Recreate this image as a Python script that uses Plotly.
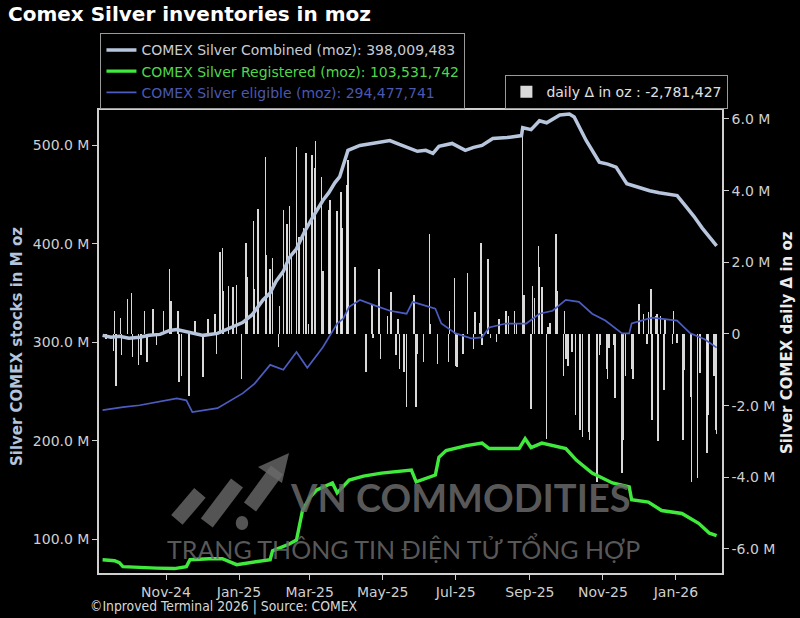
import plotly.graph_objects as go

# ---------------- data (values in millions of oz) ----------------
comb_dates = ["2024-09-09","2024-09-16","2024-09-23","2024-10-01","2024-10-10","2024-10-18","2024-10-27",
              "2024-11-04","2024-11-10","2024-11-21","2024-12-02","2024-12-14","2024-12-24","2025-01-04",
              "2025-01-12","2025-01-21","2025-01-27","2025-02-01","2025-02-07","2025-02-12","2025-02-18",
              "2025-02-25","2025-03-04","2025-03-12","2025-03-17","2025-03-22","2025-03-26","2025-04-02",
              "2025-04-12","2025-04-24","2025-05-07","2025-05-15","2025-05-23","2025-05-30","2025-06-06",
              "2025-06-12","2025-06-17","2025-06-28","2025-07-09","2025-07-16","2025-07-23","2025-08-01",
              "2025-08-13","2025-08-25","2025-08-26","2025-09-02","2025-09-09","2025-09-15","2025-09-26",
              "2025-10-04","2025-10-08","2025-10-18","2025-10-29","2025-11-05","2025-11-12","2025-11-21",
              "2025-12-02","2025-12-10","2025-12-18","2026-01-02","2026-01-10","2026-01-16","2026-01-23",
              "2026-01-30","2026-02-04"]
comb_vals = [307,305,306,304,305,307,308,312,313,310,307,309,314,320,328,343,350,362,372,386,395,
             413,428,444,452,462,468,495,500,502,505,501,497,494,495,492,499,502,495,498,500,507,
             508,510,518,516,525,523,531,532,529,505,483,481,478,461,457,454,452,449,437,428,416,
             406,398.0]

reg_dates = ["2024-09-09","2024-09-19","2024-09-23","2024-09-26","2024-10-24","2024-11-08","2024-11-18",
             "2024-11-21","2024-12-07","2024-12-18","2024-12-30","2025-01-14","2025-01-27","2025-01-29",
             "2025-02-12","2025-02-18","2025-02-23","2025-03-01","2025-03-07","2025-03-20","2025-03-24",
             "2025-04-03","2025-04-15","2025-04-30","2025-05-23","2025-05-25","2025-05-29","2025-06-14",
             "2025-06-17","2025-06-23","2025-07-10","2025-07-23","2025-07-29","2025-08-23","2025-08-28",
             "2025-09-02","2025-09-11","2025-10-01","2025-10-10","2025-10-23","2025-11-09","2025-11-23",
             "2025-11-25","2025-12-09","2025-12-20","2026-01-06","2026-01-20","2026-01-29","2026-02-04"]
reg_vals = [79,78,76,72,70.5,70,72,79,80,80,74,77,79,88,95,99,129,142,150,157,147,160,164,167,169,170,
            158,165,183,190,195,197.5,192,192,202,193,197.5,192,180,167,157,153,140,137.6,129,126,116,
            106,103.5]

elig_dates = ["2024-09-09","2024-09-19","2024-09-26","2024-10-10","2024-10-24","2024-11-10","2024-11-18",
              "2024-11-23","2024-12-14","2025-01-04","2025-01-14","2025-01-27","2025-02-07","2025-02-18",
              "2025-02-27","2025-03-12","2025-03-24","2025-03-29","2025-04-03","2025-04-12","2025-04-23",
              "2025-05-07","2025-05-21","2025-05-26","2025-06-14","2025-06-19","2025-07-01","2025-07-14",
              "2025-07-23","2025-07-29","2025-08-12","2025-08-29","2025-09-09","2025-09-20","2025-10-01",
              "2025-10-12","2025-10-23","2025-11-03","2025-11-17","2025-11-23","2025-11-25","2025-12-12",
              "2026-01-02","2026-01-13","2026-01-25","2026-02-04"]
elig_vals = [231,233,234,236,239,243,241,229,233,248,258,277,272,290,274,295,319,324,336,343,338,332,
             329,341,334,319,309,304,305,315,319,319,329,332,343,341,329,322,309,309,319,325,322,309,
             303,294.5]

bar_dates = ["2024-09-12","2024-09-18","2024-09-19","2024-09-20","2024-09-24","2024-09-25","2024-09-30",
             "2024-10-03","2024-10-04","2024-10-09","2024-10-11","2024-10-14","2024-10-16","2024-10-21",
             "2024-10-24","2024-10-30","2024-11-04","2024-11-05","2024-11-11","2024-11-12","2024-11-14",
             "2024-11-20","2024-11-25","2024-12-02","2024-12-06","2024-12-12","2024-12-13","2024-12-16",
             "2024-12-18","2024-12-19","2024-12-23","2024-12-27","2024-12-30","2025-01-03","2025-01-07",
             "2025-01-08","2025-01-13","2025-01-14","2025-01-17","2025-01-23","2025-01-24","2025-01-27",
             "2025-01-29","2025-02-03","2025-02-04","2025-02-07","2025-02-10","2025-02-12","2025-02-14",
             "2025-02-18","2025-02-20","2025-02-24","2025-02-26","2025-02-28","2025-03-03","2025-03-05",
             "2025-03-06","2025-03-11","2025-03-12","2025-03-17","2025-03-18","2025-03-24","2025-03-27",
             "2025-03-28","2025-04-01","2025-04-02","2025-04-08","2025-04-17","2025-04-22","2025-04-23",
             "2025-04-28","2025-04-29","2025-05-05","2025-05-08","2025-05-12","2025-05-14","2025-05-15",
             "2025-05-19","2025-05-21","2025-05-27","2025-05-29","2025-05-30","2025-06-04","2025-06-09",
             "2025-06-10","2025-06-16","2025-06-25","2025-06-26","2025-06-30","2025-07-01","2025-07-02",
             "2025-07-07","2025-07-11","2025-07-16","2025-07-17","2025-07-21","2025-07-22","2025-07-23",
             "2025-07-28","2025-07-30","2025-08-04","2025-08-06","2025-08-12","2025-08-14","2025-08-19",
             "2025-08-21","2025-08-26","2025-08-27","2025-09-02","2025-09-03","2025-09-05","2025-09-08",
             "2025-09-09","2025-09-11","2025-09-15","2025-09-16","2025-09-18","2025-09-23","2025-09-24",
             "2025-09-29","2025-09-30","2025-10-01","2025-10-03","2025-10-06","2025-10-09","2025-10-13",
             "2025-10-15","2025-10-20","2025-10-21","2025-10-27","2025-10-29","2025-10-30","2025-11-04",
             "2025-11-05","2025-11-06","2025-11-10","2025-11-11","2025-11-17","2025-11-18","2025-11-20",
             "2025-11-25","2025-11-26","2025-12-01","2025-12-05","2025-12-08","2025-12-09","2025-12-11",
             "2025-12-12","2025-12-15","2025-12-16","2025-12-17","2025-12-19","2025-12-22","2025-12-23",
             "2025-12-29","2025-12-30","2026-01-02","2026-01-07","2026-01-08","2026-01-13","2026-01-14",
             "2026-01-19","2026-01-21","2026-01-27","2026-01-28","2026-02-02","2026-02-03","2026-02-04"]
bar_vals = [-0.14,-0.47,0.64,-1.44,0.44,-0.6,0.97,1.14,-0.65,-0.86,-0.6,0.64,-0.78,0.69,-0.32,0.64,
            1.81,0.92,0.64,-1.33,-1.16,-1.72,0.36,-1.2,0.42,0.56,-0.56,2.3,2.4,1.2,1.33,1.3,1.36,-1.25,
            2.55,1.58,3.14,1.25,3.5,4.94,2.2,1.8,2.13,-0.37,0.78,3.47,3.06,3.56,2.17,5.22,2.72,2.97,
            5.05,0.28,5.0,4.64,5.39,4.39,1.75,3.47,3.75,3.42,3.97,2.97,4.17,4.86,1.86,-1.06,0.83,-0.1,
            1.8,-0.69,0.5,1.17,-0.6,0.42,-0.97,-1.06,-2.03,1.1,-2.03,-0.55,-0.78,2.78,0.28,-0.83,-0.78,
            0.64,1.57,-0.88,-0.93,-0.55,1.71,-0.42,0.6,0.32,2.55,-0.32,2.08,-0.1,-0.23,0.42,0.64,0.5,
            0.64,0.3,5.6,1.1,-2.08,1.33,1.0,2.45,1.86,1.3,-2.92,0.2,0.3,2.78,1.2,-1.16,0.64,-0.69,-0.88,
            -0.5,-2.27,-2.69,-2.87,-2.73,-2.96,-4.12,-0.6,-0.3,-0.97,-1.25,-0.4,-0.3,-1.8,-3.89,-2.96,
            -1.16,-0.97,-1.25,0.83,0.56,-0.28,0.6,1.25,-2.41,0.5,0.55,-3.0,0.51,-1.57,0.4,-0.28,0.65,
            -0.25,-2.96,-1.0,-1.76,-4.12,-4.03,-1.1,-3.33,-2.27,-1.16,-2.69,-2.781427]

left_ticks = [100, 200, 300, 400, 500]
left_tick_text = ["100.0 M", "200.0 M", "300.0 M", "400.0 M", "500.0 M"]
right_ticks = [-6, -4, -2, 0, 2, 4, 6]
right_tick_text = ["-6.0 M", "-4.0 M", "-2.0 M", "0", "2.0 M", "4.0 M", "6.0 M"]

FONT = "DejaVu Sans"
C_COMB = "#b7c6dd"
C_REG = "#40ea3c"
C_ELIG = "#4c5cc0"
AX = "#cfcfcf"

name_comb = '<span style="color:#c9ccd4">COMEX Silver Combined (moz): 398,009,483</span>'
name_reg = '<span style="color:#4fd84a">COMEX Silver Registered (moz): 103,531,742</span>'
name_elig = '<span style="color:#4a58b0">COMEX Silver eligible (moz): 294,477,741</span>'
name_bar = "daily \u0394 in oz : -2,781,427"

fig = go.Figure()
fig.add_trace(go.Bar(x=bar_dates, y=bar_vals, name=name_bar, yaxis="y",
                     marker=dict(color="rgba(236,236,236,0.92)", line=dict(width=0)),
                     width=86400000 * 1.25, legend="legend2", showlegend=True))
fig.add_trace(go.Scatter(x=comb_dates, y=comb_vals, name=name_comb, yaxis="y2", mode="lines",
                         line=dict(color=C_COMB, width=3.5), legend="legend"))
fig.add_trace(go.Scatter(x=reg_dates, y=reg_vals, name=name_reg, yaxis="y2", mode="lines",
                         line=dict(color=C_REG, width=3.4), legend="legend"))
fig.add_trace(go.Scatter(x=elig_dates, y=elig_vals, name=name_elig, yaxis="y2", mode="lines",
                         line=dict(color=C_ELIG, width=1.7), legend="legend"))

# watermark logo (decorative)
wm = "rgba(105,105,105,0.8)"
shapes = []
for (x0, y0, x1, y1) in [(0.125, 0.1145, 0.162, 0.1728), (0.173, 0.108, 0.2215, 0.1944),
                         (0.2424, 0.1425, 0.2857, 0.2225)]:
    shapes.append(dict(type="line", xref="paper", yref="paper", x0=x0, y0=y0, x1=x1, y1=y1,
                       line=dict(color=wm, width=15), layer="above"))
shapes.append(dict(type="path", xref="paper", yref="paper",
                   path="M 0.2552,0.2289 L 0.305,0.2592 L 0.2937,0.1944 Z",
                   fillcolor=wm, line=dict(width=0), layer="above"))
shapes.append(dict(type="circle", xref="paper", yref="paper", x0=0.2195, y0=0.093, x1=0.2395, y1=0.123,
                   fillcolor=wm, line=dict(width=0), layer="above"))

fig.update_layout(
    width=800, height=618,
    paper_bgcolor="black", plot_bgcolor="black",
    margin=dict(l=99, r=78, t=110, b=45, autoexpand=False),
    font=dict(family=FONT, color=AX, size=13),
    bargap=0,
    showlegend=True,
    title=dict(text="<b>Comex Silver inventories in moz</b>", x=0.01, xanchor="left",
               y=0.988, yanchor="top", font=dict(size=20, color="white", family=FONT)),
    xaxis=dict(type="date", range=["2024-09-06", "2026-02-08 12:00"], tickformat="%b-%y",
               dtick="M2", tick0="2024-11-01", showgrid=False, zeroline=False,
               showline=True, linecolor=AX, linewidth=1.5, mirror=True,
               ticks="outside", ticklen=5, tickcolor=AX, tickfont=dict(size=14, color=AX)),
    yaxis=dict(side="right", range=[-6.67, 6.25], tickvals=right_ticks, ticktext=right_tick_text,
               showgrid=False, zeroline=False, showline=True, linecolor=AX, linewidth=1.5,
               ticks="outside", ticklen=5, tickcolor=AX, tickfont=dict(size=14, color=AX)),
    yaxis2=dict(side="left", overlaying="y", range=[65.5, 536], tickvals=left_ticks,
                ticktext=left_tick_text, showgrid=False, zeroline=False, showline=True,
                linecolor=AX, linewidth=1.5, ticks="outside", ticklen=5, tickcolor=AX,
                tickfont=dict(size=14, color=AX)),
    legend=dict(x=0.002, y=1.166, xanchor="left", yanchor="top", bgcolor="black",
                bordercolor="#9a9a9a", borderwidth=1.2, font=dict(size=14, family=FONT),
                tracegroupgap=0, itemwidth=30),
    legend2=dict(x=0.652, y=1.0756, xanchor="left", yanchor="top", bgcolor="black",
                 bordercolor="#9a9a9a", borderwidth=1.2, font=dict(size=14, family=FONT, color="#e0e0e0")),
    shapes=shapes,
    annotations=[
        dict(text="<b>Silver COMEX stocks in M oz</b>", xref="paper", yref="paper", x=-0.1316, y=0.488,
             xanchor="center", yanchor="middle", textangle=-90, showarrow=False,
             font=dict(size=15, family=FONT, color="#b4c4dc")),
        dict(text="<b>Silver COMEX daily \u0394 in oz</b>", xref="paper", yref="paper", x=1.1043, y=0.499,
             xanchor="center", yanchor="middle", textangle=-90, showarrow=False,
             font=dict(size=15, family=FONT, color="#ececec")),
        dict(text="<b>VN COMMODITIES</b>", xref="paper", yref="paper", x=0.58, y=0.165, xanchor="center",
             yanchor="middle", showarrow=False,
             font=dict(size=38, family="Lato", color="rgba(105,105,105,0.85)")),
        dict(text="TRANG THÔNG TIN ĐIỆN TỬ TỔNG HỢP", xref="paper", yref="paper", x=0.488, y=0.052,
             xanchor="center", yanchor="middle", showarrow=False,
             font=dict(size=25, family="Lato", color="rgba(105,105,105,0.85)")),
        dict(text="©Inproved Terminal 2026 | Source: COMEX", xref="paper", yref="paper",
             x=-0.0177, y=-0.0713, xanchor="left", yanchor="middle", showarrow=False,
             font=dict(size=13.8, family="Liberation Sans Narrow, DejaVu Sans Condensed, DejaVu Sans",
                       color="#d8d8d8")),
    ],
)

fig.write_html("out.html", config={"displayModeBar": False},
               post_script="document.body.style.margin='0px';")
